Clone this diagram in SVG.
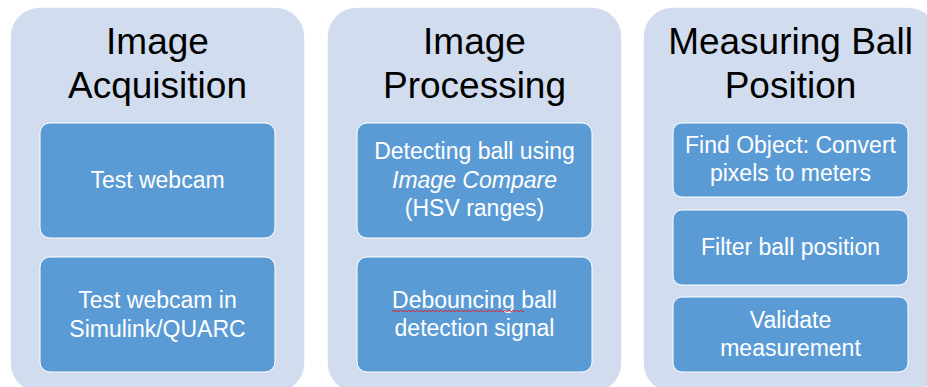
<svg xmlns="http://www.w3.org/2000/svg" width="927" height="387" viewBox="0 0 927 387">
<style>
.panel{fill:#D1DCEE;stroke:#FFFFFF;stroke-width:1.5}
.box{fill:#5B9BD5;stroke:#FFFFFF;stroke-width:1}
.title{font-family:"Liberation Sans",Arial,sans-serif;font-size:37px;fill:#000000;text-anchor:middle}
.lbl{font-family:"Liberation Sans",Arial,sans-serif;font-size:23px;fill:#FFFFFF;text-anchor:middle}
</style>
<rect width="927" height="387" fill="#FFFFFF"/>
<g id="panel-acquisition">
<rect class="panel" x="10" y="7" width="295" height="386" rx="30"/>
<text class="title" x="157.5" y="54">Image</text>
<text class="title" x="157.5" y="98">Acquisition</text>
</g>
<g id="node-test-webcam">
<rect class="box" x="40" y="123" width="235" height="115" rx="10"/>
<text class="lbl" x="157.5" y="188">Test webcam</text>
</g>
<g id="node-test-webcam-simulink">
<rect class="box" x="40" y="257" width="235" height="115" rx="10"/>
<text class="lbl" x="157.5" y="308">Test webcam in</text>
<text class="lbl" x="157.5" y="337">Simulink/QUARC</text>
</g>
<g id="panel-processing">
<rect class="panel" x="327" y="7" width="295" height="386" rx="30"/>
<text class="title" x="474.5" y="54">Image</text>
<text class="title" x="474.5" y="98">Processing</text>
</g>
<g id="node-detecting">
<rect class="box" x="357" y="123" width="235" height="115" rx="10"/>
<text class="lbl" x="474.5" y="159">Detecting ball using</text>
<text class="lbl" x="474.5" y="188" font-style="italic">Image Compare</text>
<text class="lbl" x="474.5" y="216">(HSV ranges)</text>
</g>
<g id="node-debouncing">
<rect class="box" x="357" y="257" width="235" height="115" rx="10"/>
<text class="lbl" x="474.5" y="308">Debouncing ball</text>
<text class="lbl" x="474.5" y="336">detection signal</text>
<path d="M392 311 q1 -1.5 2 0 t2 0 t2 0 t2 0 t2 0 t2 0 t2 0 t2 0 t2 0 t2 0 t2 0 t2 0 t2 0 t2 0 t2 0 t2 0 t2 0 t2 0 t2 0 t2 0 t2 0 t2 0 t2 0 t2 0 t2 0 t2 0 t2 0 t2 0 t2 0 t2 0 t2 0 t2 0 t2 0 t2 0 t2 0 t2 0 t2 0 t2 0 t2 0 t2 0 t2 0 t2 0 t2 0 t2 0 t2 0 t2 0 t2 0 t2 0 t2 0 t2 0 t2 0 t2 0 t2 0 t2 0 t2 0 t2 0 t2 0 t2 0 t2 0 t2 0 t2 0 t2 0 t2 0 t2 0 t2 0 t2 0" fill="none" stroke="#E02020" stroke-width="0.9"/>
</g>
<g id="panel-measuring">
<rect class="panel" x="643" y="7" width="295" height="386" rx="30"/>
<text class="title" x="790.5" y="54">Measuring Ball</text>
<text class="title" x="790.5" y="98">Position</text>
</g>
<g id="node-find-object">
<rect class="box" x="673" y="123" width="235" height="74" rx="9"/>
<text class="lbl" x="790.5" y="153">Find Object: Convert</text>
<text class="lbl" x="790.5" y="181">pixels to meters</text>
</g>
<g id="node-filter">
<rect class="box" x="673" y="210" width="235" height="75" rx="9"/>
<text class="lbl" x="790.5" y="255">Filter ball position</text>
</g>
<g id="node-validate">
<rect class="box" x="673" y="297" width="235" height="75" rx="9"/>
<text class="lbl" x="790.5" y="328">Validate</text>
<text class="lbl" x="790.5" y="356">measurement</text>
</g>
<g id="connectors"></g>
</svg>
